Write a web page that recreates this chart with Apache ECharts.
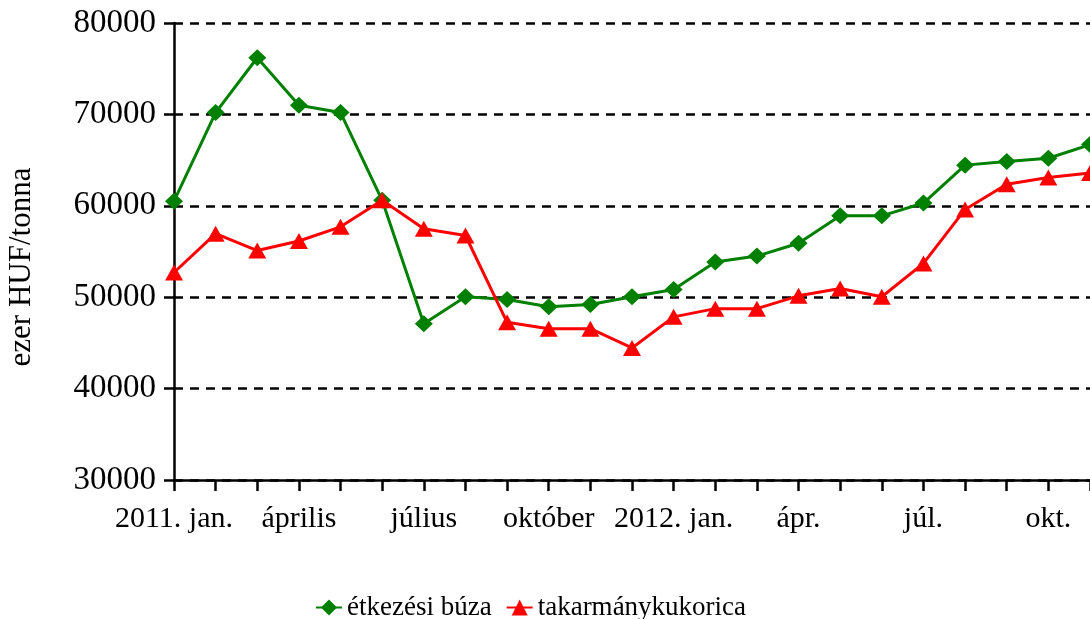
<!DOCTYPE html>
<html>
<head>
<meta charset="utf-8">
<script src="https://cdn.jsdelivr.net/npm/echarts@6/dist/echarts.min.js"></script>
<style>
html,body{margin:0;padding:0;background:#fff;}
#chart{width:1090px;height:619px;}
</style>
</head>
<body>
<div id="chart"></div>
<script>
const months = ['2011. jan.','február','március','április','május','június','július','augusztus','szeptember','október','november','december','2012. jan.','febr.','márc.','ápr.','máj.','jún.','júl.','aug.','szept.','okt.','nov.'];
const seriesNames = ['étkezési búza','takarmánykukorica'];
const buza = [60500,70200,76200,71000,70200,60600,47100,50050,49750,48950,49200,50050,50850,53850,54500,55900,58900,58900,60300,64450,64850,65200,66700];
const kukorica = [52700,56950,55100,56150,57700,60600,57500,56750,47250,46550,46550,44450,47850,48750,48750,50150,50950,50050,53700,59600,62350,63100,63600];
const yTicks = {min:30000, max:80000, interval:10000};
const yTitle = 'ezer HUF/tonna';

const font = 'Liberation Serif, Times New Roman, serif';
const chart = echarts.init(document.getElementById('chart'));
chart.setOption({
  animation:false,
  backgroundColor:'#fff',
  grid:{left:174, right:-2, top:23, bottom:139, containLabel:false},
  legend:{
    left:310, top:589,
    itemWidth:26, itemHeight:20, itemGap:14,
    textStyle:{fontFamily:font, fontSize:27, color:'#000'},
    data:seriesNames
  },
  graphic:[{
    type:'text', x:22, y:267, rotation:Math.PI/2,
    style:{text:yTitle, font:'31px '+font, fill:'#000', textAlign:'center', textVerticalAlign:'middle'}
  }],
  xAxis:{
    type:'category', data:months, boundaryGap:false,
    axisLine:{lineStyle:{color:'#000', width:2.5}},
    axisTick:{show:true, interval:0, length:11, lineStyle:{color:'#000', width:2.5}},
    axisLabel:{interval:2, margin:24, color:'#000', fontFamily:font, fontSize:30},
    splitLine:{show:false}
  },
  yAxis:{
    type:'value', min:yTicks.min, max:yTicks.max, interval:yTicks.interval,
    axisLine:{show:true, lineStyle:{color:'#000', width:2.5}},
    axisTick:{show:true, length:10, lineStyle:{color:'#000', width:2.5}},
    axisLabel:{margin:18, color:'#000', fontFamily:font, fontSize:33, formatter:v=>String(v)},
    splitLine:{show:true, lineStyle:{color:'#000', width:2.5, type:[9,7]}}
  },
  series:[
    {name:seriesNames[0], type:'line', data:buza, symbol:'diamond', symbolSize:[18,17],
     lineStyle:{color:'#008000', width:3}, itemStyle:{color:'#008000'}, z:2},
    {name:seriesNames[1], type:'line', data:kukorica, symbol:'triangle', symbolSize:[18,16],
     lineStyle:{color:'#ff0000', width:3}, itemStyle:{color:'#ff0000'}, z:3}
  ]
});
</script>
</body>
</html>
